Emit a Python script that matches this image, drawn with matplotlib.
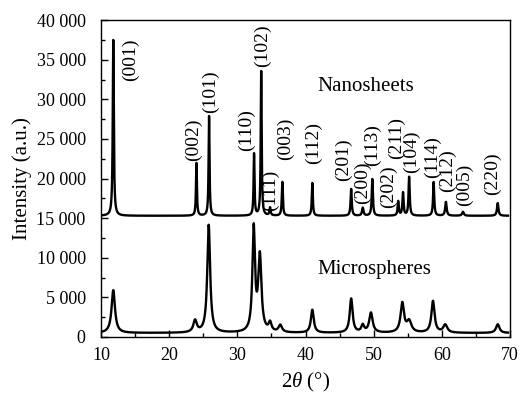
import numpy as np
import matplotlib
matplotlib.use("Agg")
import matplotlib.pyplot as plt
from matplotlib.ticker import MultipleLocator, FuncFormatter

plt.rcParams['font.family'] = ['Liberation Serif', 'DejaVu Serif']
plt.rcParams['mathtext.fontset'] = 'custom'
plt.rcParams['mathtext.it'] = 'Liberation Serif:italic'
plt.rcParams['mathtext.rm'] = 'Liberation Serif'

# ---- data ----
nano_base = 15300
nano_pos = [11.8, 24.0, 25.85, 32.45, 33.5, 34.8, 36.6, 41.0, 46.7, 48.4, 49.8, 53.6, 54.3, 55.2, 58.8, 60.6, 63.1, 68.2]
nano_height = [22200, 6650, 12600, 7800, 18270, 1000, 4260, 4130, 3380, 1000, 4640, 1800, 2900, 4890, 4260, 1740, 500, 1610]
nano_fwhm = [0.18, 0.16, 0.16, 0.16, 0.16, 0.2, 0.18, 0.18, 0.2, 0.25, 0.2, 0.2, 0.2, 0.2, 0.2, 0.25, 0.3, 0.25]

micro_base = 500
micro_pos = [11.8, 23.8, 25.8, 32.4, 33.3, 34.8, 36.3, 41.0, 46.7, 48.4, 49.6, 54.2, 55.2, 58.7, 60.5, 68.2]
micro_height = [5400, 1500, 13600, 13000, 9500, 1100, 900, 2900, 4300, 900, 2500, 3700, 1400, 4000, 1000, 1100]
micro_fwhm = [0.6, 0.6, 0.5, 0.45, 0.55, 0.5, 0.6, 0.5, 0.5, 0.5, 0.6, 0.6, 0.8, 0.55, 0.7, 0.6]

labels = ['(001)', '(002)', '(101)', '(110)', '(102)', '(111)', '(003)', '(112)', '(201)', '(200)',
          '(113)', '(202)', '(211)', '(104)', '(114)', '(212)', '(005)', '(220)']
label_x = [14.3, 23.5, 26.1, 31.4, 33.7, 34.8, 37.0, 41.1, 45.5, 48.4, 49.8, 52.1, 53.4, 55.5, 58.6, 60.9, 63.3, 67.5]
label_y = [34960, 24860, 30900, 26120, 36720, 18550, 24990, 24480, 22340, 19440, 24230, 18930, 25110, 23350, 22720, 20950, 19180, 20570]

series_names = ['Nanosheets', 'Microspheres']
series_text_x = [41.7, 41.7]
series_text_y = [31570, 8460]

x_ticks = [10, 20, 30, 40, 50, 60, 70]
y_ticks = [0, 5000, 10000, 15000, 20000, 25000, 30000, 35000, 40000]


def pattern(x, base, pos, height, fwhm):
    y = np.full_like(x, float(base))
    for p, h, w in zip(pos, height, fwhm):
        g = (w / 2) ** 2
        y += h * g / ((x - p) ** 2 + g)
    return y


x = np.linspace(10, 69.7, 6000)
y_nano = pattern(x, nano_base, nano_pos, nano_height, nano_fwhm)
y_micro = pattern(x, micro_base, micro_pos, micro_height, micro_fwhm)

fig = plt.figure(figsize=(5.22, 3.94), dpi=100)
ax = fig.add_axes([0.1935, 0.1447, 0.7835, 0.8043])
ax.plot(x, y_nano, color='black', lw=1.7)
ax.plot(x, y_micro, color='black', lw=1.7)

ax.set_xlim(10, 70)
ax.set_ylim(0, 40000)
ax.set_xticks(x_ticks)
ax.set_yticks(y_ticks)
ax.xaxis.set_minor_locator(MultipleLocator(5))
ax.yaxis.set_minor_locator(MultipleLocator(2500))
ax.yaxis.set_major_formatter(FuncFormatter(lambda v, p: f"{int(v):,}".replace(',', ' ')))
ax.tick_params(axis='both', which='both', direction='in', top=False, right=False, labelsize=13)
ax.tick_params(which='major', length=5, width=1)
ax.tick_params(which='minor', length=3, width=1)
ax.tick_params(axis='y', which='major', pad=11)
ax.tick_params(axis='x', which='major', pad=7)
for s in ax.spines.values():
    s.set_linewidth(1)

ax.set_xlabel(r'2$\it{\theta}$ (°)', fontsize=15, labelpad=5)
ax.set_ylabel('Intensity (a.u.)', fontsize=15, labelpad=3)

for t, lx, ly in zip(labels, label_x, label_y):
    ax.text(lx, ly, t, rotation=90, ha='center', va='center', fontsize=14)

for n, tx, ty in zip(series_names, series_text_x, series_text_y):
    ax.text(tx, ty, n, ha='left', va='center', fontsize=15)

fig.savefig('out.png', dpi=100)
